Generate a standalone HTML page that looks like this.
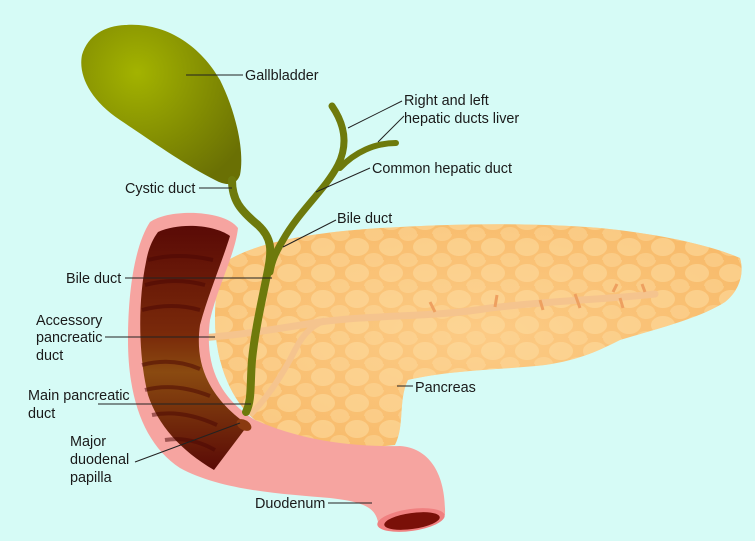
<!DOCTYPE html>
<html><head><meta charset="utf-8"><style>
html,body{margin:0;padding:0;background:#d6fbf6;}
svg{display:block;}
text{font-family:"Liberation Sans",sans-serif;font-size:14.4px;fill:#1a1a1a;}
</style></head><body>
<svg width="755" height="541" viewBox="0 0 755 541" xmlns="http://www.w3.org/2000/svg">
<defs>
<radialGradient id="gb" cx="0.35" cy="0.3" r="0.8"><stop offset="0" stop-color="#a3b300"/><stop offset="1" stop-color="#6a7004"/></radialGradient>
<radialGradient id="pc" cx="0.5" cy="0.5" r="0.7"><stop offset="0" stop-color="#fccb85"/><stop offset="1" stop-color="#f7b866"/></radialGradient>
<pattern id="cells" width="34" height="26" patternUnits="userSpaceOnUse">
<ellipse cx="17" cy="13" rx="12" ry="9" fill="#fddca0" opacity="0.55"/>
<ellipse cx="0" cy="0" rx="10" ry="7" fill="#fddca0" opacity="0.45"/>
<ellipse cx="34" cy="26" rx="10" ry="7" fill="#fddca0" opacity="0.45"/>
<ellipse cx="0" cy="26" rx="9" ry="7" fill="#fddca0" opacity="0.45"/>
<ellipse cx="34" cy="0" rx="9" ry="7" fill="#fddca0" opacity="0.45"/>
</pattern>
<linearGradient id="lum" x1="0" y1="0" x2="0" y2="1"><stop offset="0" stop-color="#5a0a06"/><stop offset="0.45" stop-color="#7a2a0a"/><stop offset="0.6" stop-color="#8a4a10"/><stop offset="1" stop-color="#5a0a06"/></linearGradient>
</defs>
<rect width="755" height="541" fill="#d6fbf6"/>
<!-- pancreas -->
<path d="M225,262 C260,240 320,232 380,228 C450,224 520,222 600,228 C660,234 710,245 740,258 C745,275 738,292 725,302 C700,318 660,328 620,340 C600,350 580,360 545,365 C500,370 450,370 408,380 C398,400 405,425 395,445 C340,452 290,440 255,420 C230,400 215,360 215,320 C215,295 218,275 225,262 Z" fill="url(#pc)"/>
<path d="M225,262 C260,240 320,232 380,228 C450,224 520,222 600,228 C660,234 710,245 740,258 C745,275 738,292 725,302 C700,318 660,328 620,340 C600,350 580,360 545,365 C500,370 450,370 408,380 C398,400 405,425 395,445 C340,452 290,440 255,420 C230,400 215,360 215,320 C215,295 218,275 225,262 Z" fill="url(#cells)"/>
<!-- pancreatic ducts -->
<path d="M200,338 C240,335 270,330 320,322 C380,314 430,318 490,308 C560,300 600,300 655,294" stroke="#f5c48e" stroke-width="7" fill="none" stroke-linecap="round"/>
<path d="M250,415 C270,395 285,370 295,350 C305,330 315,325 325,320" stroke="#f5c48e" stroke-width="6" fill="none"/>
<g stroke="#eea060" stroke-width="3" fill="none">
<path d="M430,302 l5,10"/><path d="M497,295 l-2,12"/><path d="M540,300 l3,10"/><path d="M575,294 l5,14"/><path d="M613,292 l4,-8"/><path d="M620,298 l3,10"/><path d="M645,292 l-3,-8"/>
</g>
<!-- duodenum -->
<path d="M150,222 C170,208 225,210 238,228 C235,255 218,285 210,320 C205,360 215,395 255,420 C300,440 350,447 400,446 C430,448 446,475 445,515 L378,522 C375,508 365,502 330,498 C280,494 220,490 180,468 C145,445 128,400 128,340 C128,290 135,245 150,222 Z" fill="#f6a4a0"/>
<!-- lumen -->
<path d="M158,232 C180,222 215,225 230,236 C222,262 208,295 200,325 C195,360 205,395 248,425 L214,470 C180,450 158,425 148,395 C138,355 138,300 146,262 C148,250 152,240 158,232 Z" fill="url(#lum)"/>
<g stroke="#4a0604" stroke-width="4" fill="none" opacity="0.5">
<path d="M148,260 q30,-8 65,0"/><path d="M145,285 q30,-8 60,0"/><path d="M142,310 q30,-8 58,0"/><path d="M142,365 q30,-8 58,4"/><path d="M145,390 q30,-8 65,6"/><path d="M152,415 q30,-6 65,10"/><path d="M165,440 q25,-4 50,10"/>
</g>
<ellipse cx="244" cy="425" rx="8" ry="5" fill="#8a3a10" transform="rotate(30 244 425)"/>
<ellipse cx="411" cy="520" rx="34" ry="11" fill="#f08080" transform="rotate(-8 411 520)"/>
<ellipse cx="412" cy="521" rx="28" ry="8" fill="#7a1008" transform="rotate(-8 412 521)"/>
<!-- gallbladder -->
<path d="M125,25 C165,22 200,45 220,80 C235,110 245,150 240,175 C236,186 226,186 215,180 C185,165 150,140 120,120 C90,100 78,75 82,55 C88,35 105,26 125,25 Z" fill="url(#gb)"/>
<!-- bile ducts -->
<g stroke="#6e7a0c" fill="none" stroke-linecap="round">
<path d="M232,180 C232,200 240,210 258,225 C272,238 272,250 268,270 C262,300 255,330 252,360 C250,385 252,400 246,412" stroke-width="8"/>
<path d="M332,106 C345,125 348,145 338,165 C325,190 300,210 283,240 C276,252 272,260 270,272" stroke-width="7"/>
<path d="M396,143 C375,143 355,152 340,168" stroke-width="6"/>
</g>
<!-- leader lines -->
<g stroke="#222" stroke-width="1" fill="none">
<path d="M186,75 H243"/>
<path d="M348,128 L402,101"/>
<path d="M378,142 L404,116"/>
<path d="M316,192 L370,168"/>
<path d="M283,247 L336,220"/>
<path d="M199,188 H232"/>
<path d="M125,278 H272"/>
<path d="M105,337 H215"/>
<path d="M98,404 H251"/>
<path d="M135,462 L240,423"/>
<path d="M397,386 H413"/>
<path d="M328,503 H372"/>
</g>
<text x="245" y="80">Gallbladder</text>
<text x="404" y="105">Right and left</text>
<text x="404" y="123">hepatic ducts liver</text>
<text x="372" y="173">Common hepatic duct</text>
<text x="337" y="223">Bile duct</text>
<text x="125" y="193">Cystic duct</text>
<text x="66" y="283">Bile duct</text>
<text x="36" y="325">Accessory</text>
<text x="36" y="342">pancreatic</text>
<text x="36" y="360">duct</text>
<text x="28" y="400">Main pancreatic</text>
<text x="28" y="418">duct</text>
<text x="70" y="446">Major</text>
<text x="70" y="464">duodenal</text>
<text x="70" y="482">papilla</text>
<text x="415" y="392">Pancreas</text>
<text x="255" y="508">Duodenum</text>
</svg>
</body></html>
